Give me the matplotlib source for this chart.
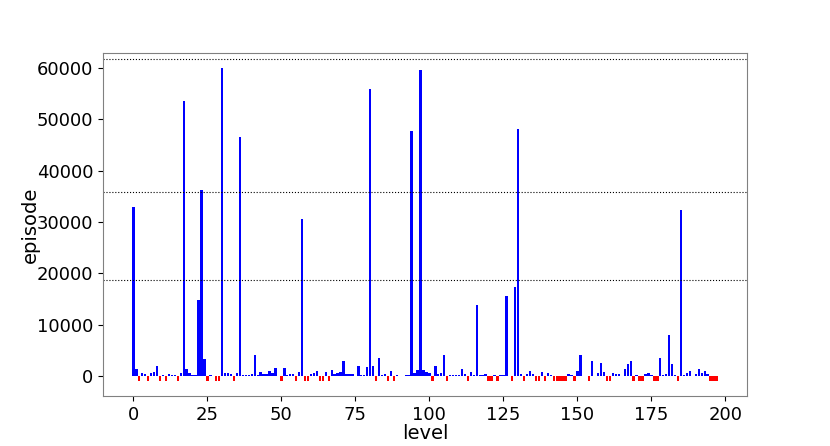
import numpy as np
import matplotlib
matplotlib.use("Agg")
import matplotlib.pyplot as plt

R = -1050  # failed levels

episode = [
    32900, 1300, R, 500, 400, R, 600, 800, 1900, R,
    200, R, 400, 250, 250, R, 600, 53600, 1400, 500,
    200, 200, 14800, 36200, 3250, R, 200, 0, R, R,
    59900, 500, 500, 300, R, 500, 46600, 250, 200, 200,
    300, 4000, 250, 700, 300, 300, 900, 600, 1500, 50,
    R, 1500, 200, 400, 400, R, 700, 30600, R, R,
    300, 500, 900, R, R, 800, R, 1100, 300, 500,
    700, 3000, 450, 450, 300, 50, 1950, 250, 250, 1800,
    55900, 1900, R, 3600, 250, 400, R, 1000, R, 150,
    100, 100, 250, 250, 47800, 500, 1200, 59700, 1200, 800,
    500, R, 1950, 300, 500, 4100, R, 150, 150, 250,
    250, 1400, 300, R, 700, 150, 13800, 250, 250, 400,
    R, R, 250, R, 150, 250, 15600, 0, R, 17300,
    48100, 300, R, 450, 1000, 300, R, R, 700, R,
    600, 250, R, R, R, R, R, 300, 250, R,
    1000, 4000, 100, 100, R, 2900, 100, 500, 2600, 700,
    R, R, 500, 450, 450, 0, 1400, 2300, 2900, R,
    200, R, R, 400, 600, 250, R, R, 3600, 200,
    400, 8000, 2300, 200, R, 32300, 150, 650, 1000, 100,
    450, 1400, 500, 900, 450, R, R, R,
]
levels = np.arange(len(episode))
ref_lines = [61750, 35800, 18700]

colors = ['red' if v < 0 else 'blue' for v in episode]

fig = plt.figure(figsize=(8.3, 4.46), dpi=100)
ax = fig.add_axes([0.124, 0.112, 0.776, 0.769])
ax.bar(levels, episode, color=colors)
for y in ref_lines:
    ax.axhline(y, color='black', linestyle=':', linewidth=0.8)
ax.set_ylim(-3900, 62900)
ax.set_xlabel('level', fontsize=14, labelpad=0)
ax.set_ylabel('episode', fontsize=14, labelpad=-2)
ax.tick_params(labelsize=13)
for s in ax.spines.values():
    s.set_color('gray')
fig.savefig('out.png')
